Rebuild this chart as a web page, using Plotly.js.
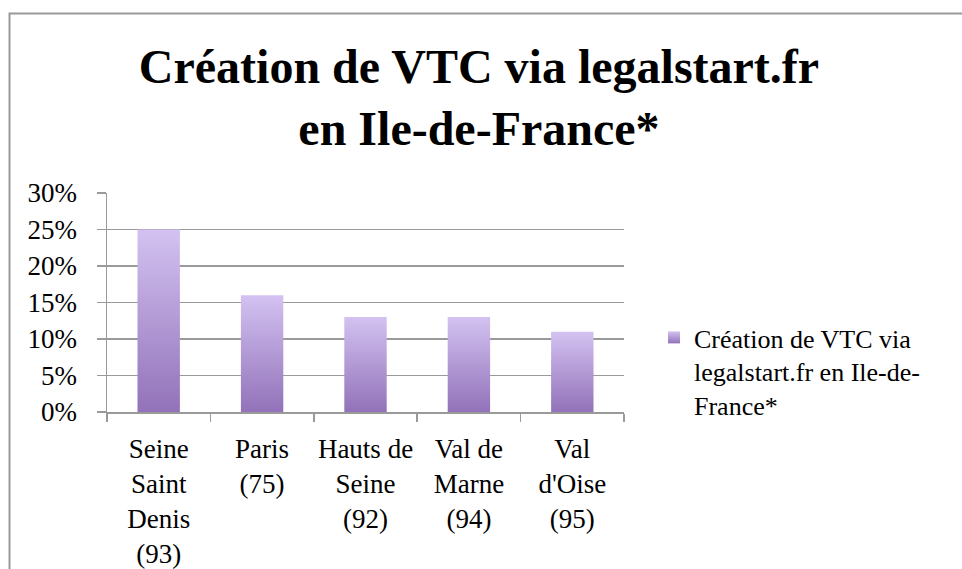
<!DOCTYPE html>
<html>
<head>
<meta charset="utf-8">
<script src="https://cdn.plot.ly/plotly-3.0.1.min.js"></script>
<style>
  html, body { margin: 0; padding: 0; background: #ffffff; }
  #chart { width: 962px; height: 569px; }
</style>
</head>
<body>
<div id="chart"></div>
<script>
const categories = [
  "Seine<br>Saint<br>Denis<br>(93)",
  "Paris<br>(75)",
  "Hauts de<br>Seine<br>(92)",
  "Val de<br>Marne<br>(94)",
  "Val<br>d'Oise<br>(95)"
];
const shares = [0.25, 0.16, 0.13, 0.13, 0.11];
const seriesName = "Création de VTC via<br>legalstart.fr en Ile-de-<br>France*";
const chartTitle = "Création de VTC via legalstart.fr<br>en Ile-de-France*";

const serif = "Liberation Serif, Times New Roman, serif";
const gridCol = "#9a9a9a";

const trace = {
  type: "bar",
  x: categories,
  y: shares,
  name: seriesName,
  showlegend: true,
  marker: { color: "#b29ad8", line: { width: 0 } },
  hoverinfo: "x+y"
};

const layout = {
  width: 962,
  height: 569,
  paper_bgcolor: "#ffffff",
  plot_bgcolor: "#ffffff",
  margin: { l: 107, r: 338, t: 193, b: 157, pad: 0 },
  bargap: 0.59,
  font: { family: serif, size: 27, color: "#000000" },
  title: {
    text: chartTitle,
    font: { family: serif, size: 48, color: "#000000", weight: "bold" },
    xref: "paper",
    x: 0.7195,
    xanchor: "center",
    yref: "container",
    y: 0.855,
    yanchor: "top"
  },
  xaxis: {
    type: "category",
    tickson: "boundaries",
    ticks: "outside",
    ticklen: 8,
    tickwidth: 1.5,
    tickcolor: gridCol,
    tickangle: 0,
    ticklabelstandoff: 12,
    showline: true,
    linecolor: gridCol,
    linewidth: 1.5,
    showgrid: false,
    tickfont: { family: serif, size: 27, color: "#000000" },
    fixedrange: true
  },
  yaxis: {
    range: [0, 0.3],
    dtick: 0.05,
    tick0: 0,
    tickformat: ".0%",
    ticks: "outside",
    ticklen: 9,
    tickwidth: 1.5,
    tickcolor: gridCol,
    ticklabelstandoff: 14,
    showline: true,
    linecolor: gridCol,
    linewidth: 1.5,
    showgrid: true,
    gridcolor: gridCol,
    gridwidth: 1.5,
    zeroline: false,
    tickfont: { family: serif, size: 27, color: "#000000" },
    fixedrange: true
  },
  legend: {
    x: 1.058,
    xanchor: "left",
    y: 0.185,
    yanchor: "middle",
    valign: "top",
    font: { family: serif, size: 26, color: "#000000" },
    itemwidth: 30,
    bgcolor: "rgba(0,0,0,0)"
  },
  shapes: [
    {
      type: "rect",
      xref: "paper", yref: "paper",
      x0: (9.5 - 107) / 517, x1: 2,
      y0: -2, y1: (412 - 13.5) / 219,
      line: { color: "#999999", width: 2 },
      fillcolor: "rgba(0,0,0,0)",
      layer: "below"
    }
  ]
};

Plotly.newPlot("chart", [trace], layout, { displayModeBar: false, staticPlot: true }).then(function () {
  const svg = document.querySelector("#chart .main-svg");
  const ns = "http://www.w3.org/2000/svg";
  let defs = svg.querySelector("defs");
  if (!defs) { defs = document.createElementNS(ns, "defs"); svg.insertBefore(defs, svg.firstChild); }
  const grad = document.createElementNS(ns, "linearGradient");
  grad.setAttribute("id", "barGrad");
  grad.setAttribute("x1", "0"); grad.setAttribute("y1", "0");
  grad.setAttribute("x2", "0"); grad.setAttribute("y2", "1");
  [["0", "#d3c2f1"], ["1", "#9272b9"]].forEach(function (s) {
    const st = document.createElementNS(ns, "stop");
    st.setAttribute("offset", s[0]);
    st.setAttribute("stop-color", s[1]);
    grad.appendChild(st);
  });
  defs.appendChild(grad);
  document.querySelectorAll("#chart .bars .point path, #chart .legend .legendpoints path").forEach(function (p) {
    p.style.fill = "url(#barGrad)";
  });
});
</script>
</body>
</html>
